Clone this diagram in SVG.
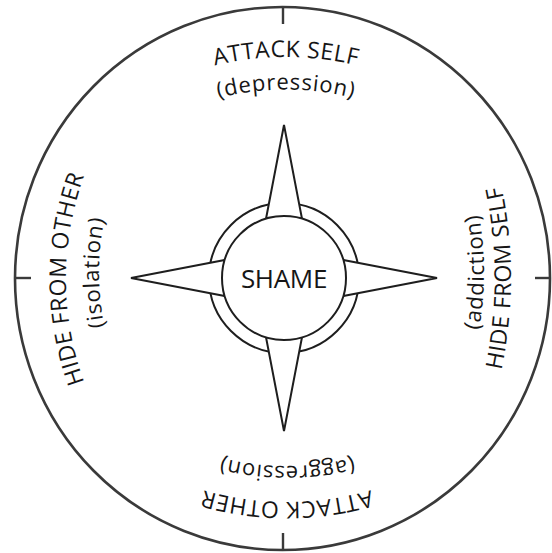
<svg xmlns="http://www.w3.org/2000/svg" width="552" height="553" viewBox="0 0 552 553">
<style>
  .outer { fill: none; stroke: #3a3a3a; stroke-width: 2.6; }
  .tick { stroke: #3a3a3a; stroke-width: 2.4; }
  .line { stroke: #1e1e1e; stroke-width: 2; fill: #fff; stroke-linejoin: miter; }
  .ring { fill: none; stroke: #1e1e1e; stroke-width: 2; }
  .lbl { font-family: "Open Sans", "Noto Sans", "Liberation Sans", sans-serif; fill: #161616; }
  .main { font-size: 23px; letter-spacing: 0.5px; }
  .sub { font-size: 22px; letter-spacing: 0.8px; }
  .center { font-family: "Open Sans", "Noto Sans", "Liberation Sans", sans-serif; font-size: 26px; letter-spacing: -0.3px; fill: #161616; }
</style>
<defs>
  <path id="pTop1" d="M286,657 A300,300 0 1,1 286,57 A300,300 0 1,1 286,657"/>
  <path id="pTop2" d="M286,629.5 A270,270 0 1,1 286,89.5 A270,270 0 1,1 286,629.5"/>
  <path id="pLeft1" d="M666,279 A300,300 0 1,1 66,279 A300,300 0 1,1 666,279"/>
  <path id="pLeft2" d="M639,272.5 A270,270 0 1,1 99,272.5 A270,270 0 1,1 639,272.5"/>
  <path id="pBot1" d="M287,-98 A300,300 0 1,1 287,502 A300,300 0 1,1 287,-98"/>
  <path id="pBot2" d="M287,-74 A270,270 0 1,1 287,466 A270,270 0 1,1 287,-74"/>
  <path id="pRight1" d="M-389,278 A450,450 0 1,0 511,278 A450,450 0 1,0 -389,278"/>
  <path id="pRight2" d="M-216,272 A350,350 0 1,0 484,272 A350,350 0 1,0 -216,272"/>
</defs>

<g id="frame">
  <ellipse class="outer" cx="282.5" cy="278.5" rx="267.5" ry="271.5"/>
  <line class="tick" x1="283" y1="7" x2="283" y2="24"/>
  <line class="tick" x1="283" y1="533" x2="283" y2="550"/>
  <line class="tick" x1="15" y1="278" x2="31" y2="278"/>
  <line class="tick" x1="535" y1="278" x2="550" y2="278"/>
</g>

<g id="compass">
  <circle class="ring" cx="284" cy="278" r="75"/>
  <polygon class="line" points="284,125 302,218.7 266,218.7"/>
  <polygon class="line" points="284,431 302,337.3 266,337.3"/>
  <polygon class="line" points="131,278 224.7,260 224.7,296"/>
  <polygon class="line" points="437,278 343.3,260 343.3,296"/>
  <circle class="line" cx="284" cy="278" r="62"/>
</g>

<g id="shame">
  <text class="center" x="284" y="288" text-anchor="middle">SHAME</text>
</g>

<g id="attack-self">
  <text class="lbl main"><textPath href="#pTop1" startOffset="50%" text-anchor="middle">ATTACK SELF</textPath></text>
  <text class="lbl sub"><textPath href="#pTop2" startOffset="50%" text-anchor="middle">(depression)</textPath></text>
</g>

<g id="hide-from-other">
  <text class="lbl main"><textPath href="#pLeft1" startOffset="50%" text-anchor="middle">HIDE FROM OTHER</textPath></text>
  <text class="lbl sub"><textPath href="#pLeft2" startOffset="50%" text-anchor="middle">(isolation)</textPath></text>
</g>

<g id="attack-other">
  <text class="lbl main"><textPath href="#pBot1" startOffset="50%" text-anchor="middle">ATTACK OTHER</textPath></text>
  <text class="lbl sub"><textPath href="#pBot2" startOffset="50%" text-anchor="middle">(aggression)</textPath></text>
</g>

<g id="hide-from-self">
  <text class="lbl main"><textPath href="#pRight1" startOffset="50%" text-anchor="middle">HIDE FROM SELF</textPath></text>
  <text class="lbl sub"><textPath href="#pRight2" startOffset="50%" text-anchor="middle">(addiction)</textPath></text>
</g>
</svg>
